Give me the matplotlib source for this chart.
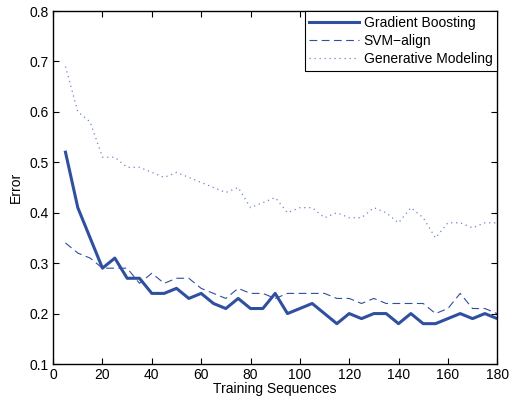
import matplotlib
matplotlib.use('Agg')
import matplotlib.pyplot as plt

plt.rcParams['font.family'] = ['Liberation Sans', 'DejaVu Sans']

sequences = list(range(5, 181, 5))
gradient_boosting = [0.52, 0.41, 0.35, 0.29, 0.31, 0.27, 0.27, 0.24, 0.24, 0.25,
                     0.23, 0.24, 0.22, 0.21, 0.23, 0.21, 0.21, 0.24, 0.20, 0.21,
                     0.22, 0.20, 0.18, 0.20, 0.19, 0.20, 0.20, 0.18, 0.20, 0.18,
                     0.18, 0.19, 0.20, 0.19, 0.20, 0.19]
svm_align = [0.34, 0.32, 0.31, 0.29, 0.29, 0.29, 0.26, 0.28, 0.26, 0.27,
             0.27, 0.25, 0.24, 0.23, 0.25, 0.24, 0.24, 0.23, 0.24, 0.24,
             0.24, 0.24, 0.23, 0.23, 0.22, 0.23, 0.22, 0.22, 0.22, 0.22,
             0.20, 0.21, 0.24, 0.21, 0.21, 0.20]
generative = [0.69, 0.60, 0.58, 0.51, 0.51, 0.49, 0.49, 0.48, 0.47, 0.48,
              0.47, 0.46, 0.45, 0.44, 0.45, 0.41, 0.42, 0.43, 0.40, 0.41,
              0.41, 0.39, 0.40, 0.39, 0.39, 0.41, 0.40, 0.38, 0.41, 0.39,
              0.35, 0.38, 0.38, 0.37, 0.38, 0.38]

color = '#2f4f9f'

fig = plt.figure(figsize=(5.11, 4.0), dpi=100)
ax = fig.add_axes([0.104, 0.09, 0.869, 0.8825])

ax.plot(sequences, gradient_boosting, color=color, lw=2.2, label='Gradient Boosting')
ax.plot(sequences, svm_align, color=color, lw=0.8, dashes=(7, 4), label='SVM\u2212align')
ax.plot(sequences, generative, color='#6f86c6', lw=0.9, dashes=(1, 3), label='Generative Modeling')

ax.set_xlim(0, 180)
ax.set_ylim(0.1, 0.8)
ax.set_xticks(range(0, 181, 20))
ax.set_yticks([0.1, 0.2, 0.3, 0.4, 0.5, 0.6, 0.7, 0.8])
ax.tick_params(direction='in', top=True, right=True, labelsize=10, length=4,
               width=0.8, pad=3)
for s in ax.spines.values():
    s.set_linewidth(1.0)

ax.set_xlabel('Training Sequences', fontsize=10, labelpad=0)
ax.set_ylabel('Error', fontsize=10, labelpad=5)

leg = ax.legend(loc='upper right', fontsize=10, fancybox=False, framealpha=1,
                edgecolor='black', borderaxespad=0, handlelength=3.6,
                labelspacing=0.3, borderpad=0.35, handletextpad=0.3)
leg.get_frame().set_linewidth(0.8)

plt.savefig('out.png', dpi=100)
